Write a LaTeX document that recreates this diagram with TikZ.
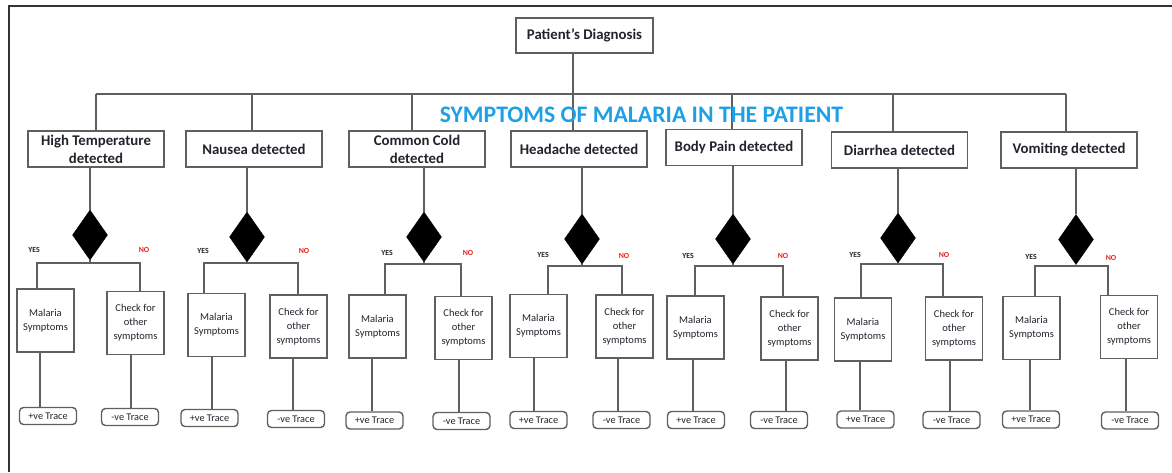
\documentclass[tikz,border=0pt]{standalone}
\usepackage{fontspec}
\setmainfont{Carlito}
\usetikzlibrary{shapes.geometric}
\definecolor{boxgray}{RGB}{95,95,95}
\definecolor{txt}{RGB}{35,35,45}
\definecolor{ttl}{RGB}{30,160,230}
\definecolor{nored}{RGB}{240,30,30}
\tikzset{
  conn/.style={draw=boxgray, line width=1.3pt},
  frame/.style={draw=black!80, line width=2pt},
  symbox/.style={draw=boxgray, line width=1.4pt, fill=white, inner sep=0pt, minimum width=136, minimum height=36, align=center, text=txt, font=\fontsize{14.8}{18}\selectfont\bfseries},
  rootbox/.style={symbox, minimum width=137, minimum height=35},
  dia/.style={diamond, fill=black, draw=black, inner sep=0pt, minimum width=35, minimum height=50},
  mbox/.style={draw=boxgray, line width=1.4pt, fill=white, inner sep=0pt, minimum width=57, minimum height=63, align=center, text=txt, font=\fontsize{10.5}{14}\selectfont},
  tbox/.style={draw=boxgray, line width=1.4pt, fill=white, rounded corners=4pt, inner sep=0pt, minimum width=57, minimum height=17, text=txt, font=\fontsize{10.3}{11}\selectfont},
  yeslab/.style={inner sep=0pt, text=txt, font=\fontsize{7.8}{9}\selectfont\bfseries},
  nolab/.style={inner sep=0pt, text=nored, font=\fontsize{7.8}{9}\selectfont\bfseries},
  titlelab/.style={inner sep=0pt, text=ttl, font=\fontsize{23.7}{26}\selectfont\bfseries}
}
\begin{document}
\begin{tikzpicture}[x=1pt,y=-1pt]
\useasboundingbox (0,0) rectangle (1172,472);
% frame
\coordinate (fa) at (9,472);
\coordinate (fb) at (9,6);
\coordinate (fc) at (1172,6);
\draw[frame] (fa) -- (fb) -- (fc);
% root
\node[rootbox] (root) at (584.5,35.5) {Patient's Diagnosis};
% symptom boxes
\node[symbox] (s1) at (96,149) {High Temperature\\detected};
\node[symbox] (s2) at (254,149) {Nausea detected};
\node[symbox] (s3) at (417,149) {Common Cold\\detected};
\node[symbox] (s4) at (579,149) {Headache detected};
\node[symbox] (s5) at (734,147.5) {Body Pain detected};
\node[symbox] (s6) at (899.5,150) {Diarrhea detected};
\node[symbox] (s7) at (1069,150) {Vomiting detected};
% bus
\coordinate (t1) at (96,94);
\coordinate (t2) at (252,94);
\coordinate (t3) at (412,94);
\coordinate (t4) at (573,94);
\coordinate (t5) at (732,94);
\coordinate (t6) at (893,94);
\coordinate (t7) at (1066,94);
\draw[conn] (t1) -- (t7);
\draw[conn] (t4 |- root.south) -- (t4 |- s4.north);
\foreach \k in {1,2,3,5,6,7} {
  \draw[conn] (t\k) -- (t\k |- s\k.north);
}
% title
\node[titlelab] (title) at (641.5,115) {SYMPTOMS OF MALARIA IN THE PATIENT};
% groups
\foreach \i/\dx/\dy/\by/\bl/\br/\mx/\my/\cx/\cy/\ml/\px/\py/\cl/\nx/\ny/\yx/\yy/\nox/\noy in {
 1/90/235/263/37/140/45.5/320.5/135.5/323/40/48/416/131/130/417/34/250/144/250,
 2/247/237/263/204/298/216.5/325/298.5/326.5/212/209.5/418/293/296/419/203/251/304/251,
 3/424/237/264/385/461/377.5/326.5/463.5/328/372/374.5/420.5/459/461.5/421/387/253/468/253,
 4/582/239/266/548/622/538.5/326/624.5/326.5/534/538.5/420/618/621.5/420/543/255/624/256,
 5/733/239/266/695/783/695.5/327.5/789.5/328.5/693/696/420/786/779/420/688/256/783/256,
 6/898/238/264/861/943/863/329.5/954/328.5/860/865.5/419.5/950/951.5/420/855/255/944/255,
 7/1076/239.5/266/1035/1108/1031.5/328/1129/327/1030/1031/419.5/1126/1130/420.5/1031/257/1111/258} {
  \node[dia] (d\i) at (\dx,\dy) {};
  \node[mbox] (m\i) at (\mx,\my) {Malaria\\Symptoms};
  \node[mbox] (c\i) at (\cx,\cy) {Check for\\other\\symptoms};
  \node[tbox] (p\i) at (\px,\py) {+ve Trace};
  \node[tbox] (n\i) at (\nx,\ny) {-ve Trace};
  \node[yeslab] (y\i) at (\yx,\yy) {YES};
  \node[nolab] (o\i) at (\nox,\noy) {NO};
  \coordinate (bl\i) at (\bl,\by);
  \coordinate (br\i) at (\br,\by);
  \coordinate (ml\i) at (\ml,\my);
  \coordinate (cl\i) at (\cl,\cy);
  \draw[conn] (d\i.north |- s\i.south) -- (d\i.north);
  \draw[conn] (d\i.south) -- (d\i.south |- bl\i);
  \draw[conn] (bl\i |- m\i.north) -- (bl\i) -- (br\i) -- (br\i |- c\i.north);
  \draw[conn] (ml\i |- m\i.south) -- (ml\i |- p\i.north);
  \draw[conn] (cl\i |- c\i.south) -- (cl\i |- n\i.north);
}
\end{tikzpicture}
\end{document}
